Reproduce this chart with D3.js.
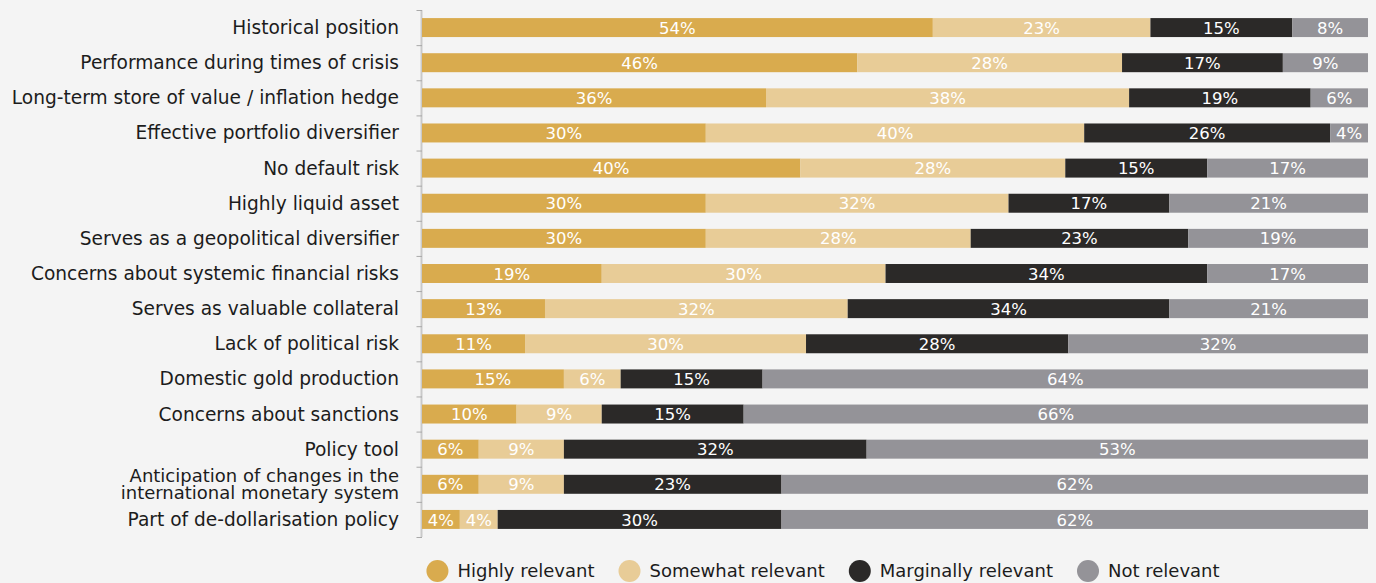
<!DOCTYPE html>
<html>
<head>
<meta charset="utf-8">
<script src="https://cdn.jsdelivr.net/npm/d3@7"></script>
<style>
  html, body { margin: 0; padding: 0; background: #f4f4f4; }
  svg { display: block; font-family: "DejaVu Sans", "Noto Sans", sans-serif; }
</style>
</head>
<body>
<svg id="chart" width="1376" height="583"></svg>
<script>
// Reasons for holding gold — share of respondents by relevance
const categories = [
  "Historical position",
  "Performance during times of crisis",
  "Long-term store of value / inflation hedge",
  "Effective portfolio diversifier",
  "No default risk",
  "Highly liquid asset",
  "Serves as a geopolitical diversifier",
  "Concerns about systemic financial risks",
  "Serves as valuable collateral",
  "Lack of political risk",
  "Domestic gold production",
  "Concerns about sanctions",
  "Policy tool",
  "Anticipation of changes in the\ninternational monetary system",
  "Part of de-dollarisation policy"
];
const highly      = [54, 46, 36, 30, 40, 30, 30, 19, 13, 11, 15, 10,  6,  6,  4];
const somewhat    = [23, 28, 38, 40, 28, 32, 28, 30, 32, 30,  6,  9,  9,  9,  4];
const marginally  = [15, 17, 19, 26, 15, 17, 23, 34, 34, 28, 15, 15, 32, 23, 30];
const notRelevant = [ 8,  9,  6,  4, 17, 21, 19, 17, 21, 32, 64, 66, 53, 62, 62];

const seriesKeys = ["Highly relevant", "Somewhat relevant", "Marginally relevant", "Not relevant"];
const seriesColors = ["#d9ab4e", "#e8cc97", "#2b2928", "#949398"];

const rows = categories.map((c, i) => ({
  category: c,
  "Highly relevant": highly[i],
  "Somewhat relevant": somewhat[i],
  "Marginally relevant": marginally[i],
  "Not relevant": notRelevant[i]
}));

const svg = d3.select("#chart");

const plot = { left: 422, right: 1368, top: 10, bottom: 537 };

const x = d3.scaleLinear().domain([0, 1]).range([plot.left, plot.right]);
const y = d3.scaleBand().domain(categories).range([plot.top, plot.bottom]).paddingInner(0.46).paddingOuter(0.23);
const color = d3.scaleOrdinal().domain(seriesKeys).range(seriesColors);

const stacked = d3.stack().keys(seriesKeys).offset(d3.stackOffsetExpand)(rows);

// category axis: vertical rule with ticks between rows
const step = y.step();
const axis = svg.append("g").attr("class", "y-axis");
axis.append("line")
  .attr("x1", plot.left - 0.5).attr("x2", plot.left - 0.5)
  .attr("y1", plot.top).attr("y2", plot.bottom)
  .attr("stroke", "#c9c9c9").attr("stroke-width", 2);
axis.selectAll("line.tick")
  .data(d3.range(categories.length + 1))
  .join("line")
  .attr("class", "tick")
  .attr("x1", plot.left - 5.5).attr("x2", plot.left)
  .attr("y1", i => plot.top + i * step + 0.5)
  .attr("y2", i => plot.top + i * step + 0.5)
  .attr("stroke", "#a9a9a9").attr("stroke-width", 1);

// category labels (multi-line where needed)
const labels = svg.append("g").attr("class", "cat-labels")
  .selectAll("text")
  .data(categories)
  .join("text")
  .attr("x", 399)
  .attr("y", d => y(d) + y.bandwidth() / 2)
  .attr("text-anchor", "end")
  .attr("fill", "#1c1c1c")
  .attr("font-size", 18.6);
labels.each(function(d) {
  const lines = d.split("\n");
  const multi = lines.length > 1;
  const lh = 17;
  const t = d3.select(this);
  if (multi) t.attr("font-size", 18);
  lines.forEach((ln, k) => {
    t.append("tspan")
      .attr("x", 399)
      .attr("y", y(d) + y.bandwidth() / 2 + (k - (lines.length - 1) / 2) * lh)
      .attr("dy", "0.35em")
      .text(ln);
  });
});

// stacked bars
const layers = svg.append("g").selectAll("g.layer")
  .data(stacked)
  .join("g")
  .attr("class", "layer")
  .attr("fill", d => color(d.key));

layers.selectAll("rect")
  .data(d => d.map(v => ({ v, key: d.key })))
  .join("rect")
  .attr("x", d => x(d.v[0]))
  .attr("width", d => x(d.v[1]) - x(d.v[0]))
  .attr("y", d => y(d.v.data.category))
  .attr("height", y.bandwidth());

// value labels centered in each segment
layers.selectAll("text")
  .data(d => d.map(v => ({ v, key: d.key })))
  .join("text")
  .attr("x", d => (x(d.v[0]) + x(d.v[1])) / 2)
  .attr("y", d => y(d.v.data.category) + y.bandwidth() / 2)
  .attr("dy", "0.37em")
  .attr("text-anchor", "middle")
  .attr("fill", "#ffffff")
  .attr("font-size", 16.5)
  .text(d => d.v.data[d.key] + "%");

// legend
const legend = svg.append("g").attr("class", "legend");
const items = legend.selectAll("g.item")
  .data(seriesKeys)
  .join("g")
  .attr("class", "item");
items.append("circle")
  .attr("r", 11)
  .attr("cx", 11)
  .attr("cy", 0)
  .attr("fill", d => color(d));
items.append("text")
  .attr("x", 31)
  .attr("y", 0)
  .attr("dy", "0.35em")
  .attr("font-size", 18)
  .attr("fill", "#1c1c1c")
  .text(d => d);

const gap = 24;
let cursor = 0;
const widths = [];
items.each(function() { widths.push(this.getBBox().width); });
const total = d3.sum(widths) + gap * (widths.length - 1);
const startX = 823 - total / 2;
items.attr("transform", (d, i) => {
  const tx = startX + cursor;
  cursor += widths[i] + gap;
  return `translate(${tx},571)`;
});
</script>
</body>
</html>
